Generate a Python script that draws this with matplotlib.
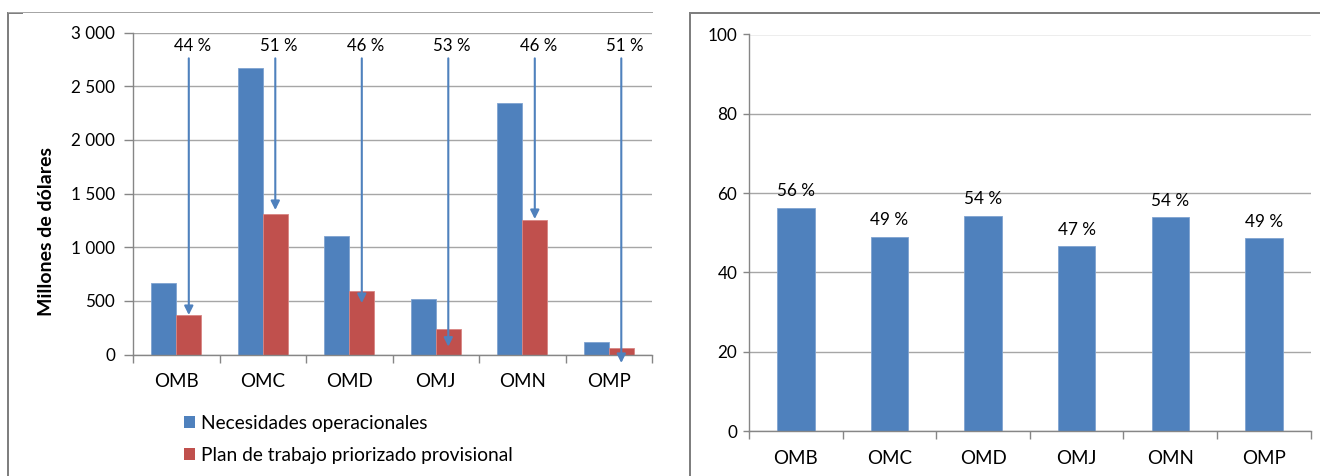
import matplotlib
matplotlib.use("Agg")
import matplotlib.pyplot as plt
from matplotlib.lines import Line2D
from matplotlib.patches import Patch
import numpy as np

# ---- data -------------------------------------------------------------
categories = ["OMB", "OMC", "OMD", "OMJ", "OMN", "OMP"]
needs = [667, 2669, 1108, 518, 2343, 115]          # Necesidades operacionales (M USD)
plan = [372, 1306, 596, 242, 1257, 56]             # Plan de trabajo priorizado provisional (M USD)
gap_labels = ["44 %", "51 %", "46 %", "53 %", "46 %", "51 %"]
arrow_tips = [368, 1347, 480, 73, 1263, -79]       # where each gap arrow ends (M USD)
share_pct = [56.3, 49.0, 54.3, 46.7, 53.9, 48.7]   # plan as % of needs

left_yticks = [0, 500, 1000, 1500, 2000, 2500, 3000]
left_yticklabels = ["0", "500", "1 000", "1 500", "2 000", "2 500", "3 000"]
right_yticks = [0, 20, 40, 60, 80, 100]
series_names = ["Necesidades operacionales", "Plan de trabajo priorizado provisional"]

# ---- style ------------------------------------------------------------
plt.rcParams["font.family"] = ["Lato", "DejaVu Sans"]
BLUE = "#4F81BD"
RED = "#C0504D"
GRID = "#A6A6A6"
AXIS = "#868686"
FRAME = "#7F7F7F"

W, H = 1320, 476
fig = plt.figure(figsize=(W / 100, H / 100), dpi=100)


def fx(px):
    return px / W


def fy(py):
    return 1 - py / H


def style_axes(ax, ytick_len, ytick_pad):
    for s in ("top", "right"):
        ax.spines[s].set_visible(False)
    for s in ("left", "bottom"):
        ax.spines[s].set_color(AXIS)
        ax.spines[s].set_linewidth(1.0)
    ax.yaxis.grid(True, color=GRID, linewidth=1.0)
    ax.set_axisbelow(True)
    ax.tick_params(axis="y", length=ytick_len, width=1.0, color=AXIS,
                   pad=ytick_pad, labelsize=12.3, labelcolor="black")
    x = np.arange(len(categories))
    ax.set_xticks(x)
    ax.set_xticklabels(categories)
    ax.set_xticks(np.arange(len(categories) + 1) - 0.5, minor=True)
    ax.tick_params(axis="x", which="major", length=0, pad=13.5, labelsize=13.5)
    ax.tick_params(axis="x", which="minor", length=6, width=1.0, color=AXIS)
    ax.set_xlim(-0.5, len(categories) - 0.5)


# ---- left: needs vs plan ---------------------------------------------
axL = fig.add_axes([fx(133), fy(354.5), fx(652) - fx(133), fy(32.7) - fy(354.5)])
x = np.arange(len(categories))
bw = 0.29
axL.bar(x - bw / 2, needs, bw, color=BLUE, edgecolor="#7FA3D1", linewidth=0.6)
axL.bar(x + bw / 2, plan, bw, color=RED, edgecolor="#D88583", linewidth=0.6)
axL.set_ylim(0, 3000)
axL.set_yticks(left_yticks)
axL.set_yticklabels(left_yticklabels)
style_axes(axL, ytick_len=6.5, ytick_pad=6.5)

for i in range(len(categories)):
    xa = x[i] + bw / 2
    axL.annotate("", xy=(xa, arrow_tips[i]), xytext=(xa, 2761),
                 arrowprops=dict(arrowstyle="-|>", color=BLUE, lw=1.5,
                                 mutation_scale=13, shrinkA=0, shrinkB=0),
                 annotation_clip=False)
    axL.text(xa + 0.04, 2880, gap_labels[i], ha="center", va="center",
             fontsize=12.2, color="black")

fig.text(fx(47), fy(231.5), "Millones de dólares", rotation=90,
         ha="center", va="center", fontsize=14, fontweight="bold")

handles = [Patch(facecolor=BLUE, edgecolor="none"),
           Patch(facecolor=RED, edgecolor="none")]
fig.legend(handles, series_names, loc="upper left",
           bbox_to_anchor=(fx(184), fy(415)), frameon=False, fontsize=13.8,
           handlelength=0.57, handleheight=0.57, handletextpad=0.3,
           labelspacing=0.78, borderpad=0, borderaxespad=0)

# ---- right: plan as share of needs -----------------------------------
axR = fig.add_axes([fx(749), fy(431), fx(1310.7) - fx(749), fy(34.5) - fy(431)])
bars = axR.bar(x, share_pct, 0.4, color=BLUE, edgecolor="#7FA3D1", linewidth=0.6)
axR.set_ylim(0, 100)
axR.set_yticks(right_yticks)
style_axes(axR, ytick_len=4.5, ytick_pad=4)
axR.bar_label(bars, labels=[f"{v:.0f} %" for v in share_pct], padding=6,
              fontsize=12.3)

# ---- panel frames ----------------------------------------------------
frame_lines = [
    ((8, 8), (13, 476), FRAME, 2.0),
    ((8, 22), (13, 13), FRAME, 2.0),
    ((8, 652), (12, 12), GRID, 1.0),
    ((690, 690), (13, 476), FRAME, 2.0),
    ((690, 1320), (13, 13), FRAME, 2.0),
]
for xs, ys, c, lw in frame_lines:
    fig.add_artist(Line2D([fx(v) for v in xs], [fy(v) for v in ys],
                          color=c, linewidth=lw * 72 / 100))

fig.savefig("out.png", dpi=100)
